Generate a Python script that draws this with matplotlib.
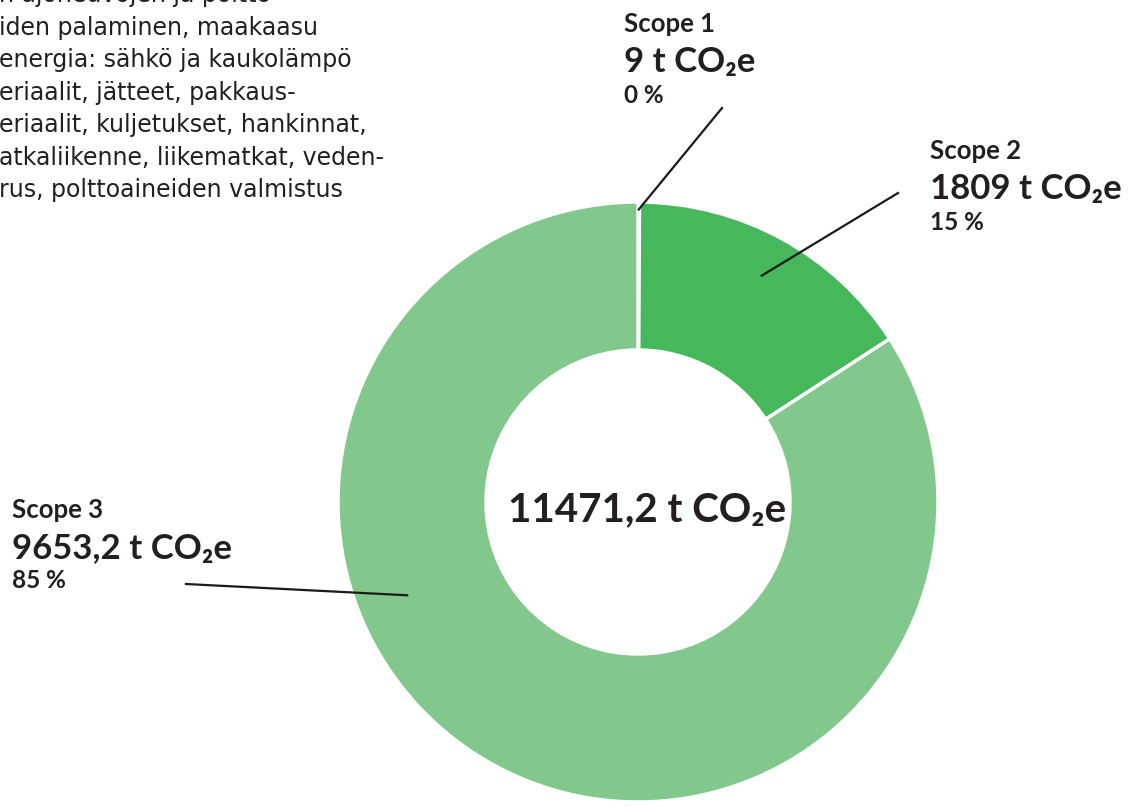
import numpy as np
import matplotlib.pyplot as plt

# Scope emissions (t CO2e)
scopes = ["Scope 1", "Scope 2", "Scope 3"]
values = [9, 1809, 9653.2]
value_labels = ["9", "1809", "9653,2"]
pct_labels = ["0 %", "15 %", "85 %"]
total_label = "11471,2"
colors = ["#2E9E48", "#46B75A", "#82C88D"]

# description text, cropped at the left edge in the original
desc_lines = [
    "n ajoneuvojen ja poltto-",
    "iden palaminen, maakaasu",
    "energia: sähkö ja kaukolämpö",
    "eriaalit, jätteet, pakkaus-",
    "eriaalit, kuljetukset, hankinnat,",
    "atkaliikenne, liikematkat, veden-",
    "rus, polttoaineiden valmistus",
]

W, H = 1132, 809
fig = plt.figure(figsize=(W / 100, H / 100), dpi=100)
ax = fig.add_axes([0, 0, 1, 1])

fam = ["Lato", "DejaVu Sans"]
txt_color = "#231F20"

cx, cy, R = 638, H - 502, 300
wedges, _ = ax.pie(values, colors=colors, startangle=90, counterclock=False,
                   center=(cx, cy), radius=R,
                   wedgeprops=dict(width=R - 152, edgecolor="white", linewidth=2.5))
ax.set_xlim(0, W)
ax.set_ylim(0, H)
ax.set_aspect("equal")
ax.axis("off")

# centre total
ax.text(cx + 9, H - 510, f"{total_label} t CO\u2082e", ha="center", va="center",
        fontsize=29, fontweight="bold", color=txt_color, family=fam)

# labels: (left x, top-line y in px), leader start (px), anchor angle, anchor radius fraction
label_pos = [(624, 24), (930, 151), (12, 510)]
leader_start = [(722, 108), (898, 193), (186, 584)]
anchor_r = [0.975, 0.86, 0.83]
anchor_ang = [None, None, 202]

for i, w in enumerate(wedges):
    lx, ly = label_pos[i]
    ax.text(lx, H - ly, scopes[i], ha="left", va="center", fontsize=18.5,
            fontweight="bold", color=txt_color, family=fam)
    ax.text(lx, H - ly - 38, f"{value_labels[i]} t CO\u2082e", ha="left", va="center",
            fontsize=25, fontweight="bold", color=txt_color, family=fam)
    ax.text(lx, H - ly - 71, pct_labels[i], ha="left", va="center", fontsize=17.5,
            fontweight="bold", color=txt_color, family=fam)
    ang = anchor_ang[i] if anchor_ang[i] is not None else (w.theta1 + w.theta2) / 2
    ex = cx + anchor_r[i] * R * np.cos(np.radians(ang))
    ey = cy + anchor_r[i] * R * np.sin(np.radians(ang))
    sx, sy = leader_start[i]
    ax.plot([sx, ex], [H - sy, ey], color="#1a1a1a", linewidth=1.6)

for j, line in enumerate(desc_lines):
    ax.text(-1, H - (-5 + 32.5 * j), line, ha="left", va="center", fontsize=17,
            color=txt_color, family=["DejaVu Sans"])

fig.savefig("out.png", dpi=100)
